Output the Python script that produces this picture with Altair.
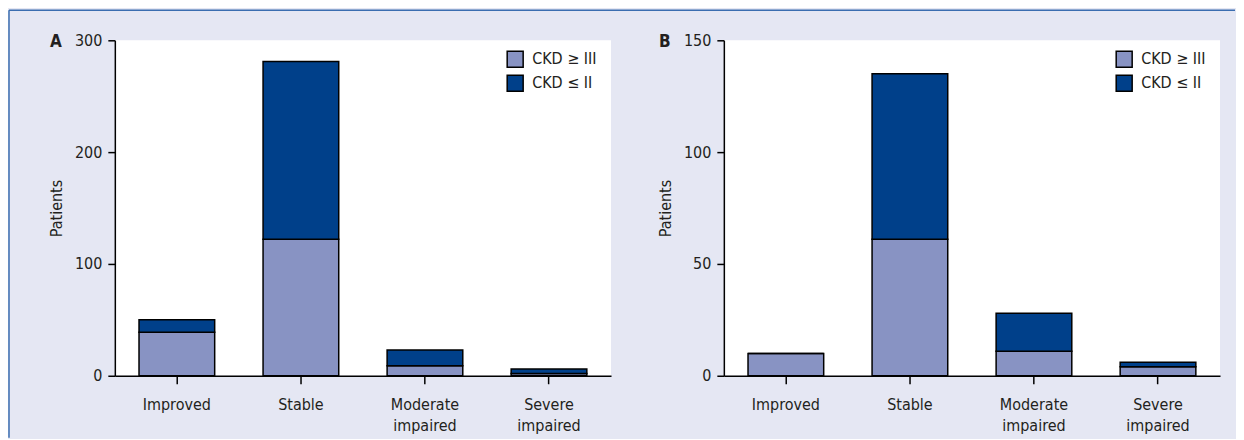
import altair as alt
import pandas as pd

categories = ["Improved", "Stable", "Moderate impaired", "Severe impaired"]
series = ["CKD ≥ III", "CKD ≤ II"]

# Panel A values (patients)
a_ckd_ge3 = [39, 122, 9, 2]
a_ckd_le2 = [11, 159, 14, 4]
# Panel B values (patients)
b_ckd_ge3 = [10, 61, 11, 4]
b_ckd_le2 = [0, 74, 17, 2]

a_ticks = [0, 100, 200, 300]
b_ticks = [0, 50, 100, 150]

colors = ["#8893c3", "#00408a"]
BG = "#e5e7f3"
BORDER = "#3a6db0"
INK = "#231f20"
FONT = "DejaVu Sans Condensed, Liberation Sans, sans-serif"

W, H = 497, 336
GAP = 113
LEFT = 106
RIGHT = 15


def make_df(ge3, le2):
    rows = []
    for i, c in enumerate(categories):
        rows.append({"outcome": c, "ckd": series[0], "rank": 0, "patients": ge3[i]})
        rows.append({"outcome": c, "ckd": series[1], "rank": 1, "patients": le2[i]})
    return pd.DataFrame(rows)


def panel(df, letter, ticks, frame):
    bars = alt.Chart(df).mark_bar(stroke="black", strokeWidth=1.5).encode(
        x=alt.X("outcome:N", sort=categories,
                scale=alt.Scale(paddingInner=0.39, paddingOuter=0.195),
                axis=alt.Axis(title=None, labelAngle=0,
                              labelExpr="split(datum.label, ' ')",
                              labelFontSize=16, labelFont=FONT, labelColor=INK,
                              labelLineHeight=21, labelPadding=13,
                              tickSize=8, tickColor="black", tickWidth=1.5,
                              domainColor="black", domainWidth=1.5)),
        y=alt.Y("patients:Q",
                scale=alt.Scale(domain=[ticks[0], ticks[-1]], nice=False),
                axis=alt.Axis(title="Patients", values=ticks, grid=False,
                              labelFontSize=16, labelFont=FONT, labelColor=INK,
                              labelPadding=6, tickSize=7, tickColor="black",
                              tickWidth=1.5, domainColor="black", domainWidth=1.5,
                              titleFont=FONT, titleFontSize=16,
                              titleFontWeight="normal", titleColor=INK,
                              titlePadding=10)),
        color=alt.Color("ckd:N", scale=alt.Scale(domain=series, range=colors),
                        legend=alt.Legend(title=None, orient="none",
                                          legendX=392, legendY=10,
                                          symbolType="square", symbolSize=256,
                                          symbolStrokeColor="black",
                                          symbolStrokeWidth=1.5,
                                          labelFont=FONT, labelFontSize=16,
                                          labelColor=INK, labelOffset=8,
                                          rowPadding=2)),
        order=alt.Order("rank:Q"),
    )
    tag = pd.DataFrame({"label": [letter]})
    letter_mark = alt.Chart(tag).mark_text(
        font=FONT, fontSize=17, fontWeight="bold", color=INK,
        align="left", baseline="alphabetic",
    ).encode(x=alt.value(-65), y=alt.value(7), text="label:N")
    layers = [bars, letter_mark]
    if frame:
        top_line = alt.Chart(tag).mark_rule(color=BORDER, strokeWidth=1.5).encode(
            x=alt.value(-LEFT), x2=alt.value(W + GAP + W + RIGHT), y=alt.value(-30))
        side = alt.Chart(tag).mark_rule(color=BORDER, strokeWidth=1.5).encode(
            x=alt.value(-LEFT), y=alt.value(-30), y2=alt.value(H + 62))
        layers += [top_line, side]
    return alt.layer(*layers).properties(width=W, height=H)


chart_a = panel(make_df(a_ckd_ge3, a_ckd_le2), "A", a_ticks, True)
chart_b = panel(make_df(b_ckd_ge3, b_ckd_le2), "B", b_ticks, False)

chart = alt.hconcat(chart_a, chart_b, spacing=GAP, bounds="flush").resolve_scale(
    y="independent", color="independent"
).resolve_legend(color="independent").properties(
    padding={"top": 1, "left": 0, "right": 0, "bottom": 0},
    background=BG,
).configure_view(fill="white", stroke=None)

chart.save("out.html", embed_options={"renderer": "svg", "actions": False})
